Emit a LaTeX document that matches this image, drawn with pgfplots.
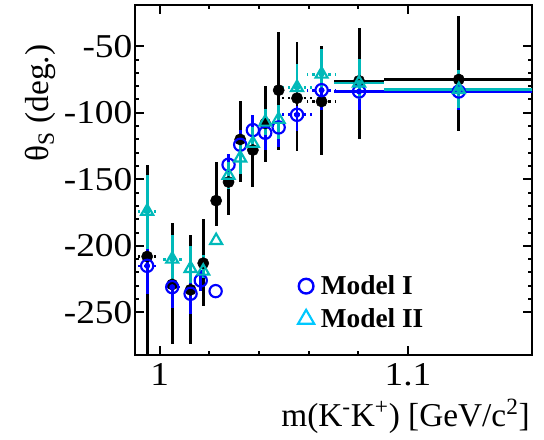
\documentclass[border=0pt]{standalone}
\usepackage{fontspec}
\setmainfont{Liberation Serif}
\newfontfamily\tickfont[FakeStretch=1.12]{Liberation Serif}
\usepackage{pgfplots}
\pgfplotsset{compat=1.18}
\usepackage{pgfplotstable}
\definecolor{mblue}{RGB}{0,0,255}
\definecolor{mteal}{RGB}{0,185,185}
\definecolor{msky}{RGB}{0,200,255}

\pgfplotstableread{
x y ep em
0.9949 -208 69 80
1.0050 -229 46 45
1.0124 -233 41 41
1.0175 -213 33 32
1.0227 -166 29 19
1.0277 -152 17 25
1.0324 -120 29 32
1.0375 -128 26 28
1.0425 -108 28 29
1.0479 -83 44 45
1.0553 -89 42 40
1.0652 -91.5 41.5 40.5
1.0803 -76 40 44
1.1205 -75 48 39
}\datablack

\pgfplotstableread{
x y ep em
0.9949 -215 13 21
1.0050 -231 10 16
1.0124 -236 10 15
1.0165 -226 8 8
1.0225 -234 0 0
1.0277 -139 8 8
1.0324 -124 11 8
1.0375 -113 11 7
1.0425 -115 6 13
1.0479 -111 8 15
1.0553 -101.5 6.5 12.5
1.0652 -83 11 15
1.0803 -84 10 14
1.1205 -84 10 14
}\datamodelone

\pgfplotstableread{
x y ep em
0.9949 -174 27 28
1.0050 -210 18 21
1.0124 -217 17 11
1.0175 -219 12 5
1.0227 -196 0 0
1.0277 -147 10 10
1.0324 -134 12 12
1.0375 -123 12 8
1.0425 -107 10 10
1.0479 -105 11 15
1.0553 -81 18 8
1.0652 -71 19 10
1.0803 -77.6 18 12
1.1205 -82.5 15 14
}\datamodeltwo

\begin{document}
\begin{tikzpicture}
\begin{axis}[name=ax, scale only axis, width=297.75pt, height=262.5pt,
 xmin=0.99, xmax=1.15, ymin=-282, ymax=-19,
 xtick={1,1.1}, xticklabels={1,1.1},
 ytick={-250,-200,-150,-100,-50}, yticklabels={-250,-200,-150,-100,-50},
 minor x tick num=4, minor y tick num=4,
 tick align=inside, tick pos=both, ticklabel pos=left,
 major tick length=6.5pt, minor tick length=3pt,
 axis line style={line width=2.2pt},
 tick style={black, line width=1.5pt},
 tick label style={font=\tickfont\fontsize{25}{27}\selectfont},
 yticklabel style={xshift=1.5pt},
 xticklabel style={yshift=-3pt},
 xlabel={m(K\textsuperscript{-}K\textsuperscript{+}) [GeV/c\textsuperscript{2}]},
 xlabel style={at={(axis description cs:0.995,-0.203)}, anchor=base east, font=\fontsize{25}{27}\selectfont, inner sep=0pt},
 ylabel={θ\textsubscript{S} (deg.)},
 ylabel style={at={(axis description cs:-0.237,0.72)}, anchor=center, font=\fontsize{25}{27}\selectfont, inner sep=0pt},
 legend style={at={(axis description cs:0.41,0.235)}, anchor=north west, draw=none, fill=none, font=\fontsize{20.5}{22}\selectfont\bfseries, row sep=5pt, inner sep=0pt,
   /tikz/every odd column/.append style={column sep=3pt}},
 legend cell align=left,
]
% black series
\addplot[black, only marks, mark=*, mark size=4.2pt, forget plot,
  error bars/.cd, y dir=both, y explicit, error mark=none, error bar style={line width=2.2pt}]
  table[x=x, y=y, y error plus=ep, y error minus=em] {\datablack};
\addplot[black, only marks, mark=none, forget plot,
  error bars/.cd, x dir=both, x explicit, error mark=none, error bar style={line width=2pt, dash pattern=on 2pt off 3pt}]
  coordinates {(0.9949,-208) +- (0.005,0) (1.0553,-89) +- (0.006,0) (1.0652,-91.5) +- (0.006,0)};
\addplot[black, only marks, mark=none, forget plot,
  error bars/.cd, x dir=both, x explicit, error mark=none, error bar style={line width=2pt}]
  coordinates {(1.0803,-76) +- (0.01,0) (1.1205,-75) +- (0.03,0)};
% Model I
\addplot[mblue, only marks, mark=o, mark size=4.6pt, mark options={line width=1.6pt}, forget plot,
  error bars/.cd, y dir=both, y explicit, error mark=none, error bar style={line width=2.2pt}]
  table[x=x, y=y, y error plus=ep, y error minus=em] {\datamodelone};
\addplot[mblue, only marks, mark=none, forget plot,
  error bars/.cd, x dir=both, x explicit, error mark=none, error bar style={line width=2pt, dash pattern=on 2pt off 3pt}]
  coordinates {(0.9949,-215) +- (0.005,0) (1.0553,-101.5) +- (0.006,0) (1.0652,-83) +- (0.006,0)};
\addplot[mblue, only marks, mark=none, forget plot,
  error bars/.cd, x dir=both, x explicit, error mark=none, error bar style={line width=2pt}]
  coordinates {(1.005,-231) +- (0.003,0) (1.0803,-84) +- (0.01,0) (1.1205,-84) +- (0.03,0)};
% Model II
\addplot[mteal, only marks, mark=triangle, mark size=5.2pt, mark options={line width=1.6pt}, forget plot,
  error bars/.cd, y dir=both, y explicit, error mark=none, error bar style={line width=2.2pt}]
  table[x=x, y=y, y error plus=ep, y error minus=em] {\datamodeltwo};
\addplot[mteal, only marks, mark=none, forget plot,
  error bars/.cd, x dir=both, x explicit, error mark=none, error bar style={line width=2pt, dash pattern=on 2pt off 3pt}]
  coordinates {(0.9949,-174) +- (0.005,0) (1.005,-210) +- (0.005,0) (1.0553,-81) +- (0.006,0) (1.0652,-71) +- (0.006,0)};
\addplot[mteal, only marks, mark=none, forget plot,
  error bars/.cd, x dir=both, x explicit, error mark=none, error bar style={line width=2pt}]
  coordinates {(1.0803,-77.6) +- (0.01,0) (1.1205,-82.5) +- (0.03,0)};
% legend
\addlegendimage{only marks, mark=o, mblue, mark size=5.5pt, mark options={line width=1.8pt}}
\addlegendentry{Model I}
\addlegendimage{only marks, mark=triangle, msky, mark size=7pt, mark options={line width=1.6pt}}
\addlegendentry{Model II}
\end{axis}
\pgfresetboundingbox
\path[use as bounding box] ([xshift=-101.25pt,yshift=-63pt]ax.south west) rectangle ([xshift=9pt,yshift=3.75pt]ax.north east);
\end{tikzpicture}
\end{document}
